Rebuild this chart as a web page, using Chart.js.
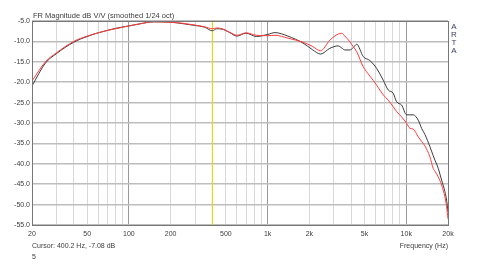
<!DOCTYPE html>
<html>
<head>
<meta charset="utf-8">
<script src="https://cdn.jsdelivr.net/npm/chart.js@4/dist/chart.umd.min.js"></script>
<style>
  html, body { margin: 0; padding: 0; background: #fff; }
  #wrap { width: 480px; height: 275px; position: relative; }
</style>
</head>
<body>
<div id="wrap"><canvas id="grafica"></canvas></div>
<script>
// frequencies (Hz)
const freqs = [20, 25, 30, 40, 50, 60, 70, 80, 100, 120, 150, 200, 250, 300, 350, 400, 430, 470, 530, 600,
  700, 830, 1000, 1130, 1400, 1800, 2100, 2410, 2810, 3230, 3420, 3610, 3920, 4150, 4390, 4890, 5470, 6110,
  6820, 7410, 8050, 8520, 9260, 10060, 10630, 11230, 12200, 12900, 13630, 14810, 15640, 16100, 17000,
  17980, 19000, 19540, 20000];

// black trace (dB)
const black = [-20.9, -15.3, -13.0, -10.2, -8.8, -7.9, -7.3, -6.8, -6.2, -5.7, -5.2, -5.3, -5.7, -6.1, -6.5,
  -7.4, -6.9, -7.0, -7.8, -8.7, -8.0, -8.8, -8.3, -7.85, -8.7, -10.4, -12.0, -13.1, -11.7, -11.1, -11.6,
  -12.1, -12.1, -11.5, -10.7, -13.7, -14.7, -16.6, -19.5, -21.9, -22.7, -24.8, -25.6, -28.0, -28.0, -28.0,
  -29.3, -31.3, -32.8, -35.8, -38.0, -39.1, -41.1, -44.0, -46.8, -48.9, -51.8];

// red trace (dB)
const red = [-19.7, -15.0, -12.8, -10.0, -8.7, -7.9, -7.3, -6.9, -6.2, -5.7, -5.2, -5.3, -5.6, -6.0, -6.4,
  -6.9, -6.7, -6.9, -7.7, -8.5, -7.9, -8.5, -8.6, -8.5, -9.2, -10.2, -11.2, -12.3, -9.7, -8.2, -8.0,
  -8.7, -10.1, -11.3, -12.5, -16.2, -18.5, -20.7, -23.1, -24.4, -26.0, -27.2, -28.5, -30.1, -31.3, -31.5,
  -33.4, -34.5, -35.6, -38.3, -41.1, -41.8, -43.2, -45.2, -48.1, -50.5, -53.5];

const cursorFreq = 400.2;
const cursorDb = -7.08;

// x grid/tick positions and labels
const xGrid = [20, 30, 40, 50, 60, 70, 80, 90, 100, 200, 300, 400, 500, 600, 700, 800, 900,
  1000, 2000, 3000, 4000, 5000, 6000, 7000, 8000, 9000, 10000, 20000];
const xLabels = { 20: "20", 50: "50", 100: "100", 200: "200", 500: "500", 1000: "1k", 2000: "2k",
  5000: "5k", 10000: "10k", 20000: "20k" };
const xMajor = [100, 1000, 10000];

const FONT = "'Liberation Sans', Arial, sans-serif";

const pts = arr => arr.map((v, i) => ({ x: freqs[i], y: v }));

// texts and frame
const extras = {
  id: "extras",
  afterDraw(chart) {
    const c = chart.ctx;
    const a = chart.chartArea;
    c.save();
    c.strokeStyle = "#777";
    c.lineWidth = 1;
    c.strokeRect(Math.round(a.left) + 0.5, Math.round(a.top) + 0.5,
      Math.round(a.right - a.left), Math.round(a.bottom - a.top));
    c.fillStyle = "#3c3c3c";
    c.font = "7.5px " + FONT;
    c.textBaseline = "alphabetic";
    c.textAlign = "left";
    c.fillText("FR Magnitude dB V/V (smoothed 1/24 oct)", a.left + 1, 18);
    c.font = "7px " + FONT;
    c.fillText("Cursor: " + cursorFreq.toFixed(1) + " Hz, " + cursorDb.toFixed(2) + " dB", a.left, 247.5);
    c.fillText("5", a.left, 258.5);
    c.textAlign = "right";
    c.fillText("Frequency (Hz)", a.right, 247.5);
    c.fillStyle = "#3a3f5a";
    c.textAlign = "center";
    c.font = "8px " + FONT;
    ["A", "R", "T", "A"].forEach((ch, i) => c.fillText(ch, a.right + 6, 28.5 + i * 8.3));
    c.restore();
  }
};

new Chart(document.getElementById("grafica").getContext("2d"), {
  type: "line",
  data: {
    datasets: [
      {
        label: "red",
        data: pts(red),
        borderColor: "#ff3b3b",
        borderWidth: 1,
        pointRadius: 0,
        cubicInterpolationMode: "monotone",
        order: 1
      },
      {
        label: "black",
        data: pts(black),
        borderColor: "#3a3a3a",
        borderWidth: 1,
        pointRadius: 0,
        cubicInterpolationMode: "monotone",
        order: 2
      },
      {
        label: "cursor",
        data: [{ x: cursorFreq, y: -5 }, { x: cursorFreq, y: -55 }],
        borderColor: "#e6d619",
        borderWidth: 1,
        pointRadius: 0,
        order: 3
      }
    ]
  },
  options: {
    responsive: true,
    maintainAspectRatio: false,
    animation: false,
    events: [],
    layout: { padding: { top: 21, right: 32, left: 0, bottom: 0 } },
    plugins: { legend: { display: false }, tooltip: { enabled: false } },
    scales: {
      x: {
        type: "logarithmic",
        min: 20,
        max: 20000,
        afterBuildTicks: s => { s.ticks = xGrid.map(v => ({ value: v })); },
        afterFit: s => { s.height = 50; },
        border: { display: false },
        grid: {
          drawTicks: false,
          color: c => xMajor.includes(c.tick && c.tick.value) ? "#9a9a9a" : "#d8d8d8",
          lineWidth: 1
        },
        ticks: {
          autoSkip: false,
          maxRotation: 0,
          padding: 5,
          color: "#3c3c3c",
          font: { family: FONT, size: 7 },
          callback: v => xLabels[v] || ""
        }
      },
      y: {
        min: -55,
        max: -5,
        afterFit: s => { s.width = 32; },
        border: { display: false },
        grid: { drawTicks: false, color: "#bdbdbd", lineWidth: 1.5 },
        ticks: {
          stepSize: 5,
          padding: 2,
          color: "#3c3c3c",
          font: { family: FONT, size: 7 },
          callback: v => v.toFixed(1)
        }
      }
    }
  },
  plugins: [extras]
});
</script>
</body>
</html>
